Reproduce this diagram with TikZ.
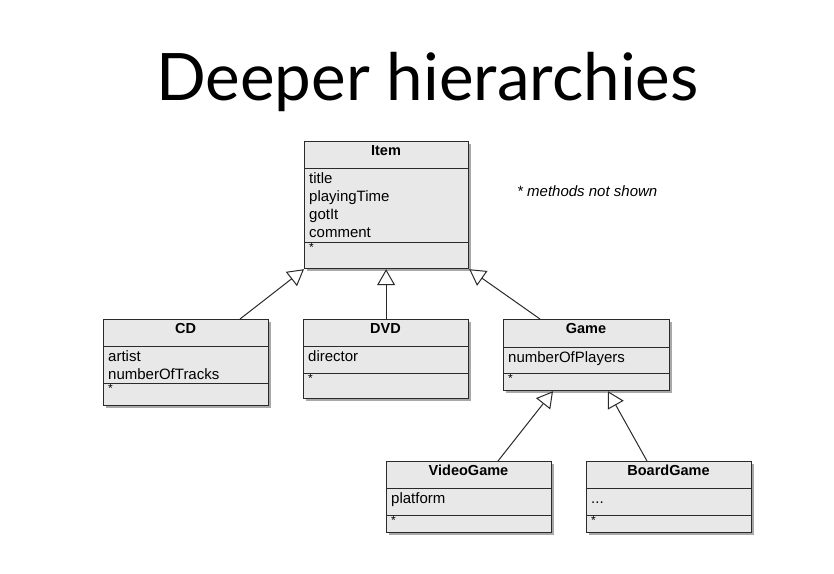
\documentclass[tikz,border=0pt]{standalone}
\usepackage{fontspec}
\setmainfont{Liberation Sans}
\newfontfamily\titlefont{Lato}
\usetikzlibrary{arrows.meta,calc}
\definecolor{boxfill}{HTML}{E8E8E8}
\definecolor{shadowc}{HTML}{A8A8A8}
\definecolor{linec}{HTML}{2A2A2A}
\tikzset{
  classbox/.style={draw=linec, line width=1.2pt, fill=boxfill, anchor=north west, inner sep=0pt},
  sep/.style={draw=linec, line width=1pt},
  ctitle/.style={font=\fontsize{14.5}{17}\selectfont\bfseries, anchor=north, inner sep=0pt},
  cattr/.style={font=\fontsize{15}{18.3}\selectfont, anchor=north west, align=left, inner sep=0pt},
  cstar/.style={font=\fontsize{12}{14}\selectfont, anchor=north west, inner sep=0pt},
  inherit/.style={draw=linec, line width=1pt, -{Triangle[open, length=16pt, width=18pt, line width=1pt]}},
}
\newcommand\umlclass[9]{%
  \fill[shadowc] (#2+2.5,#3+2.5) rectangle (#4+2.5,#5+2.5);
  \node[classbox, minimum width={(#4-#2)*1pt}, minimum height={(#5-#3)*1pt}] (#1) at (#2,#3) {};
  \draw[sep] (#2,#6) -- (#4,#6);
  \draw[sep] (#2,#7) -- (#4,#7);
  \node[ctitle] (#1-t) at ({(#2+#4)/2},#3+4) {#8};
  \node[cattr] (#1-a) at (#2+5,#6+4) {\vphantom{Ml}#9};
  \node[cstar] (#1-m) at (#2+5,#7+1.5) {*};
}
\begin{document}
\begin{tikzpicture}[x=1pt, y=-1pt]
  \useasboundingbox[fill=white] (0,0) rectangle (834,573);
  \node[anchor=base, inner sep=0pt, font=\titlefont\fontsize{65.5}{70}\selectfont] (title) at (427.5,100) {Deeper hierarchies};
  \node[anchor=west, inner sep=0pt, font=\fontsize{15}{16}\selectfont\itshape] (note) at (517,191) {* methods not shown};

  \umlclass{item}{304}{141}{468}{268}{168}{242}{Item}{title\\playingTime\\gotIt\\comment}
  \umlclass{cd}{103}{319}{268}{405}{346}{383}{CD}{artist\\numberOfTracks}
  \umlclass{dvd}{303}{319}{468}{398}{346}{373}{DVD}{director}
  \umlclass{game}{503}{319}{669}{390}{347}{373}{Game}{numberOfPlayers}
  \umlclass{vg}{386}{461}{551}{532}{488}{515}{VideoGame}{platform}
  \umlclass{bg}{586}{461}{751}{532}{488}{515}{BoardGame}{...}

  \draw[inherit] ($(cd.north west)+(137,0)$) -- (item.south west);
  \draw[inherit] (dvd.north) -- (dvd.north |- item.south);
  \draw[inherit] ($(game.north west)+(37,0)$) -- (item.south east);
  \draw[inherit] ($(vg.north west)+(112,0)$) -- ($(game.south west)+(50,0)$);
  \draw[inherit] ($(bg.north west)+(61,0)$) -- ($(game.south west)+(105,0)$);
\end{tikzpicture}
\end{document}
